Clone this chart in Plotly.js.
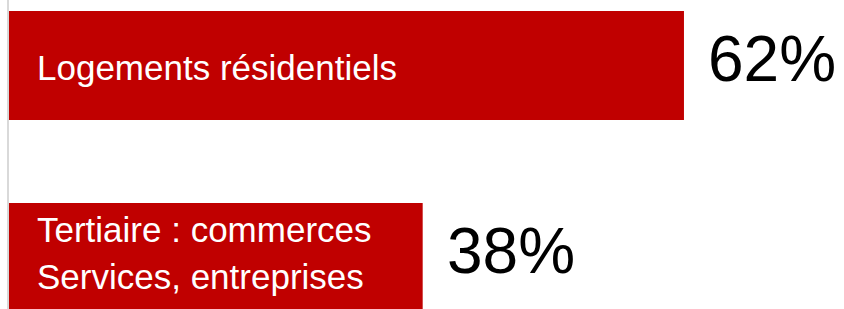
<!DOCTYPE html>
<html>
<head>
<meta charset="utf-8">
<script src="https://cdn.plot.ly/plotly-3.0.1.min.js"></script>
<style>html,body{margin:0;padding:0;background:#fff;}#chart{width:844px;height:309px;}</style>
</head>
<body>
<div id="chart"></div>
<script>
var categories = ['Logements résidentiels', 'Tertiaire : commerces<br>Services, entreprises'];
var values = [62, 38];
var valueLabels = ['62%', '38%'];

var annotations = [];
categories.forEach(function (cat, i) {
  var lines = cat.split('<br>');
  var base = lines.length > 1 ? 4 : -2;
  lines.forEach(function (line, j) {
    annotations.push({
      x: 0, y: i, xref: 'x', yref: 'y',
      text: line, showarrow: false,
      xanchor: 'left', yanchor: 'middle',
      xshift: 26,
      yshift: -((j - (lines.length - 1) / 2) * 47) + base,
      font: {family: '"Liberation Sans", Arial, sans-serif', size: 35, color: '#ffffff'}
    });
  });
  annotations.push({
    x: values[i], y: i, xref: 'x', yref: 'y',
    text: valueLabels[i], showarrow: false,
    xanchor: 'left', yanchor: 'middle',
    xshift: 22, yshift: 6,
    font: {family: '"Liberation Sans", Arial, sans-serif', size: 64, color: '#000000'}
  });
});

var trace = {
  type: 'bar',
  orientation: 'h',
  y: [0, 1],
  x: values,
  marker: {color: '#C00000'},
  width: 0.568,
  hoverinfo: 'none'
};

var layout = {
  width: 844, height: 309,
  margin: {l: 9, r: 0, t: 0, b: 0},
  paper_bgcolor: '#ffffff', plot_bgcolor: '#ffffff',
  showlegend: false,
  xaxis: {range: [0, 76.7], showgrid: false, zeroline: false, showticklabels: false, showline: false, ticks: ''},
  yaxis: {range: [1.2683, -0.3411], showgrid: false, zeroline: false, showticklabels: false, ticks: '',
          showline: true, linecolor: '#D9D9D9', linewidth: 2},
  annotations: annotations
};

Plotly.newPlot('chart', [trace], layout, {displayModeBar: false, staticPlot: true});
</script>
</body>
</html>
